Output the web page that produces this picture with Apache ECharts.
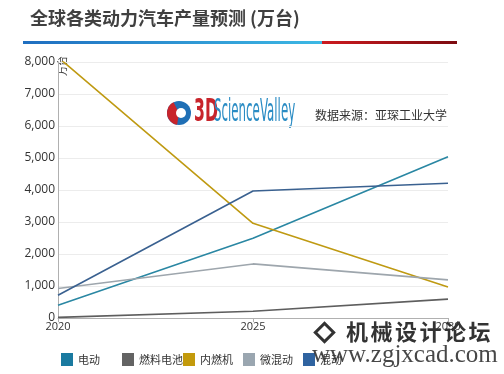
<!DOCTYPE html>
<html><head><meta charset="utf-8">
<script src="https://cdn.jsdelivr.net/npm/echarts@6/dist/echarts.min.js"></script>
<style>html,body{margin:0;padding:0;background:#fff}#c{width:504px;height:374px}</style>
</head><body><div id="c"></div>
<script>
var years = [2020, 2025, 2030];
var seriesNames = ['电动', '燃料电池', '内燃机', '微混动', '混动'];
var ev = [400, 2490, 5040];
var fuelCell = [20, 210, 590];
var ice = [8150, 2960, 970];
var mildHybrid = [920, 1690, 1190];
var hybrid = [710, 3970, 4210];
var yTicks = [0, 1000, 2000, 3000, 4000, 5000, 6000, 7000, 8000];
var xTicks = [2020, 2025, 2030];

var lineColors = ['#2a87a3', '#5e5e5e', '#bf9a12', '#9ea6ad', '#3a6190'];
var legendColors = ['#1a7aa0', '#636363', '#c39a0c', '#9aa6b0', '#2f63a0'];
var allData = [ev, fuelCell, ice, mildHybrid, hybrid];
var legendLeft = [61, 122, 183, 243, 303];
var watermarkChars = ['机', '械', '设', '计', '论', '坛'];

var chart = echarts.init(document.getElementById('c'), null, {renderer: 'canvas'});
var series = seriesNames.map(function (n, i) {
  return {
    name: n, type: 'line', symbol: 'none', smooth: false,
    data: years.map(function (y, j) { return [y, allData[i][j]]; }),
    lineStyle: {width: 1.6, color: lineColors[i]},
    itemStyle: {color: legendColors[i]}
  };
});
var legends = seriesNames.map(function (n, i) {
  return {
    left: legendLeft[i], top: 353, itemWidth: 12, itemHeight: 13, itemGap: 0, icon: 'rect', padding: 0,
    data: [{name: n, itemStyle: {color: legendColors[i]}}],
    textStyle: {fontSize: 11, color: '#333', fontFamily: '"Noto Sans CJK SC", sans-serif'}
  };
});
var font = '"Open Sans", "Noto Sans", sans-serif';
var graphics = [
  {type: 'text', left: 30, top: 9, style: {text: '全球各类动力汽车产量预测 (万台)', fontSize: 18, fontWeight: 'bold', fill: '#404040', fontFamily: '"Noto Sans CJK SC", sans-serif'}},
  {type: 'rect', shape: {x: 23, y: 41, width: 434, height: 3}, style: {fill: {type: 'linear', x: 0, y: 0, x2: 1, y2: 0, colorStops: [
    {offset: 0, color: '#1f6ec0'}, {offset: 0.689, color: '#3cb8e4'}, {offset: 0.69, color: '#cc1a1f'}, {offset: 1, color: '#7c0b10'}]}}},
  {type: 'text', x: 62.5, y: 76, rotation: Math.PI / 2, style: {text: '万台', fontSize: 10, fill: '#333', textAlign: 'left', textVerticalAlign: 'middle', fontFamily: '"Noto Sans CJK SC", sans-serif'}},
  {type: 'circle', shape: {cx: 179, cy: 113, r: 12}, style: {fill: '#1f6fb5'}},
  {type: 'sector', shape: {cx: 179, cy: 113, r: 12, r0: 0, startAngle: Math.PI * 0.55, endAngle: Math.PI * 1.35}, style: {fill: '#c8242b'}},
  {type: 'circle', shape: {cx: 181, cy: 113, r: 5}, style: {fill: '#fff'}},
  {type: 'text', x: 194, y: 113, scaleX: 0.49, style: {text: '3D', fontSize: 32, fontWeight: 'bold', fill: '#c8242b', textVerticalAlign: 'middle', fontFamily: '"DejaVu Sans", sans-serif'}},
  {type: 'text', x: 214, y: 113, scaleX: 0.37, style: {text: 'ScienceValley', fontSize: 32, fill: '#2a8cc4', textVerticalAlign: 'middle', fontFamily: '"DejaVu Sans", sans-serif'}},
  {type: 'text', x: 315, y: 115, style: {text: '数据来源：亚琛工业大学', fontSize: 12, fill: '#333', textVerticalAlign: 'middle', fontFamily: '"Noto Sans CJK SC", sans-serif'}},
  {type: 'rect', shape: {x: 318, y: 326, width: 13, height: 13}, rotation: Math.PI / 4, originX: 324.5, originY: 332.5, style: {fill: 'none', stroke: '#333', lineWidth: 3}, z: 100},
  {type: 'text', x: 312, y: 355, z: 100, style: {text: 'www.zgjxcad.com', fontSize: 25, fill: '#333', opacity: 0.9, textVerticalAlign: 'middle', fontFamily: '"Liberation Serif", serif'}}
];
watermarkChars.forEach(function (ch, i) {
  graphics.push({type: 'text', x: 346 + i * 24.5, y: 332, z: 100, style: {text: ch, fontSize: 22, fontWeight: 'bold', fill: '#333', textVerticalAlign: 'middle', fontFamily: '"Noto Sans CJK SC", serif'}});
});
chart.setOption({
  animation: false,
  grid: {left: 58, right: 56, top: 62, bottom: 56},
  xAxis: {
    type: 'value', min: xTicks[0], max: xTicks[xTicks.length - 1], interval: 5,
    axisLine: {lineStyle: {color: '#b0b0b0', width: 1}},
    axisTick: {show: true, length: 4, lineStyle: {color: '#b0b0b0'}},
    splitLine: {show: false},
    axisLabel: {formatter: function (v) { return String(v); }, fontSize: 11, color: '#333', margin: 3, fontFamily: font}
  },
  yAxis: {
    type: 'value', min: yTicks[0], max: yTicks[yTicks.length - 1], interval: 1000,
    axisLine: {show: true, lineStyle: {color: '#b0b0b0'}},
    axisTick: {show: false},
    splitLine: {lineStyle: {color: '#ececec'}},
    axisLabel: {formatter: function (v) { return v.toLocaleString('en-US'); }, fontSize: 12, color: '#333', margin: 3, fontFamily: font}
  },
  legend: legends,
  series: series,
  graphic: graphics
});
</script></body></html>
